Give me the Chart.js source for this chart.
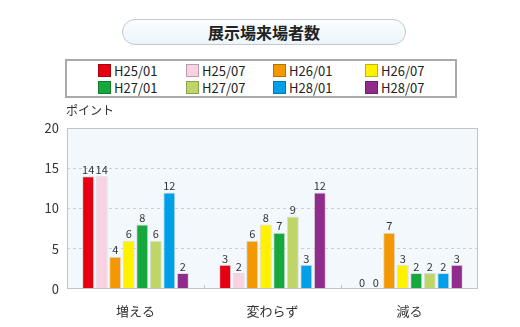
<!DOCTYPE html>
<html>
<head>
<meta charset="utf-8">
<script src="https://cdn.jsdelivr.net/npm/chart.js@4"></script>
<style>
body { margin: 0; width: 520px; height: 327px; background: #fff; font-family: "Noto Sans CJK JP", sans-serif; position: relative; overflow: hidden; }
#title { position: absolute; left: 122px; top: 19px; width: 282px; height: 24px; border: 1px solid #c8c8c8; border-radius: 13px;
  background: linear-gradient(#fbfdff, #eaf5fb); text-align: center; font-size: 16px; font-weight: bold; line-height: 24px; color: #222; }
#legend { position: absolute; left: 65px; top: 59px; width: 388px; height: 35px; border: 2px solid #aaa; }
.item { position: absolute; font-size: 13px; color: #222; line-height: 14px; white-space: nowrap; }
.item span { display: inline-block; width: 11px; height: 11px; margin-right: 3px; vertical-align: -1px; border: 1px solid rgba(0,0,0,0.25); }
#wrap { position: absolute; left: 0; top: 100px; width: 520px; height: 227px; }
</style>
</head>
<body>
<div id="title">展示場来場者数</div>
<div id="legend"></div>
<div id="wrap"><canvas id="myChart" width="520" height="227"></canvas></div>
<script>
var categories = ['増える', '変わらず', '減る'];
var seriesNames = ['H25/01', 'H25/07', 'H26/01', 'H26/07', 'H27/01', 'H27/07', 'H28/01', 'H28/07'];
var seriesColors = ['#e60012', '#f8d2e2', '#f39800', '#fff100', '#16a83c', '#bed667', '#00a0e9', '#8f2c8c'];
var h25_01 = [14, 3, 0];
var h25_07 = [14, 2, 0];
var h26_01 = [4, 6, 7];
var h26_07 = [6, 8, 3];
var h27_01 = [8, 7, 2];
var h27_07 = [6, 9, 2];
var h28_01 = [12, 3, 2];
var h28_07 = [2, 12, 3];
var yTicks = [0, 5, 10, 15, 20];
var allValues = [h25_01, h25_07, h26_01, h26_07, h27_01, h27_07, h28_01, h28_07];

// legend as html, 4 columns x 2 rows
var legend = document.getElementById('legend');
var colX = [31, 119, 206, 298];
for (var i = 0; i < seriesNames.length; i++) {
    var d = document.createElement('div');
    d.className = 'item';
    d.style.left = colX[i % 4] + 'px';
    d.style.top = (i < 4 ? 3 : 20) + 'px';
    d.innerHTML = '<span style="background:' + seriesColors[i] + '"></span>' + seriesNames[i];
    legend.appendChild(d);
}

var datasets = [];
for (var i = 0; i < seriesNames.length; i++) {
    datasets.push({
        label: seriesNames[i],
        data: allValues[i],
        backgroundColor: seriesColors[i],
        borderColor: '#dcdcdc',
        borderWidth: 1,
        categoryPercentage: 0.79,
        barPercentage: 0.89
    });
}

// plot background, border, boundary ticks, value labels
const plotDeco = {
    id: 'plotDeco',
    beforeDraw(chart) {
        var a = chart.chartArea, ctx = chart.ctx;
        ctx.save();
        ctx.fillStyle = '#f2f8fc';
        ctx.fillRect(a.left, a.top, a.right - a.left, a.bottom - a.top);
        ctx.restore();
    },
    afterDatasetsDraw(chart) {
        var a = chart.chartArea, ctx = chart.ctx, x = chart.scales.x;
        ctx.save();
        ctx.strokeStyle = '#c4c4c4';
        ctx.lineWidth = 1;
        ctx.strokeRect(a.left + 0.5, a.top + 0.5, a.right - a.left - 1, a.bottom - a.top - 1);
        for (var c = 0; c < categories.length - 1; c++) {
            var bx = Math.round((x.getPixelForValue(c) + x.getPixelForValue(c + 1)) / 2) + 0.5;
            ctx.beginPath();
            ctx.moveTo(bx, a.bottom - 4);
            ctx.lineTo(bx, a.bottom);
            ctx.stroke();
        }
        ctx.fillStyle = '#333';
        ctx.font = '11px "Noto Sans CJK JP"';
        ctx.textAlign = 'center';
        ctx.textBaseline = 'bottom';
        chart.data.datasets.forEach(function (ds, i) {
            chart.getDatasetMeta(i).data.forEach(function (bar, j) {
                ctx.fillText(ds.data[j], bar.x, bar.y - 1);
            });
        });
        ctx.textAlign = 'left';
        ctx.font = '12px "Noto Sans CJK JP"';
        ctx.fillText('ポイント', 66, a.top - 12);
        ctx.restore();
    }
};

const myChart = new Chart(document.getElementById('myChart'), {
    type: 'bar',
    data: { labels: categories, datasets: datasets },
    options: {
        responsive: false,
        animation: false,
        layout: { padding: { top: 28, right: 42, left: 0, bottom: 0 } },
        plugins: { legend: { display: false }, tooltip: { enabled: false } },
        scales: {
            x: {
                grid: { display: false },
                border: { display: false },
                ticks: { color: '#333', font: { size: 13, family: '"Noto Sans CJK JP"' }, padding: 6 },
                afterFit: function (s) { s.height = 38; }
            },
            y: {
                min: 0,
                max: 20,
                afterBuildTicks: function (s) { s.ticks = yTicks.map(function (v) { return { value: v }; }); },
                grid: {
                    color: function (c) { return (c.tick.value === 0 || c.tick.value === 20) ? 'rgba(0,0,0,0)' : '#cfcfcf'; },
                    drawTicks: false
                },
                border: { display: false, dash: [3, 3] },
                ticks: { color: '#333', font: { size: 13, family: '"Noto Sans CJK JP"' }, padding: 8 },
                afterFit: function (s) { s.width = 67; }
            }
        }
    },
    plugins: [plotDeco]
});
</script>
</body>
</html>
